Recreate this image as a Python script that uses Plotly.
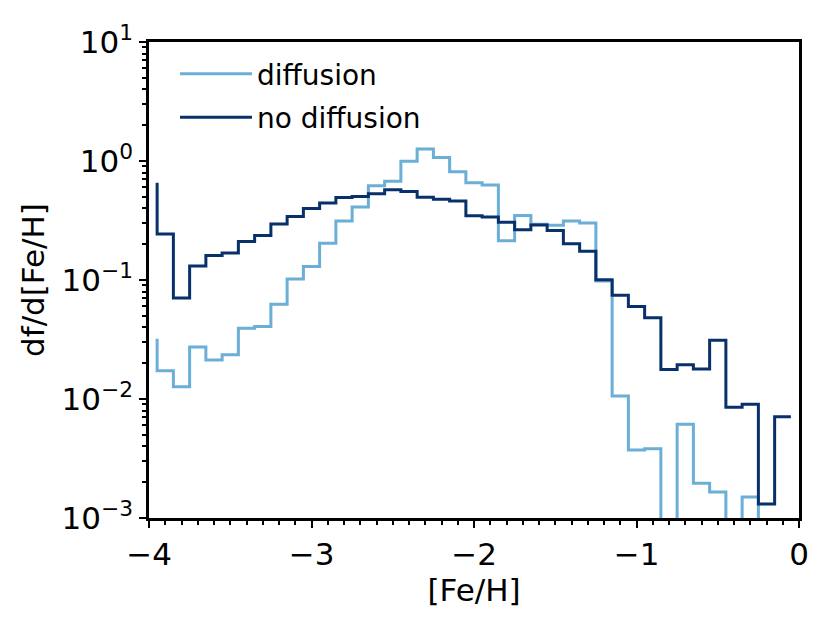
import plotly.graph_objects as go

# bin edges in [Fe/H]; the first value of each series only marks the start of the step line
fe_h_edges = [-3.95, -3.85, -3.75, -3.65, -3.55, -3.45, -3.35, -3.25, -3.15, -3.05,
              -2.95, -2.85, -2.75, -2.65, -2.55, -2.45, -2.35, -2.25, -2.15, -2.05,
              -1.95, -1.85, -1.75, -1.65, -1.55, -1.45, -1.35, -1.25, -1.15, -1.05,
              -0.95, -0.85, -0.75, -0.65, -0.55, -0.45, -0.35, -0.25, -0.15, -0.05]

diffusion = [0.0321, 0.0173, 0.0127, 0.0273, 0.0213, 0.0235, 0.0394, 0.0406, 0.0625, 0.102,
             0.130, 0.204, 0.313, 0.411, 0.618, 0.675, 0.993, 1.26, 1.07, 0.811,
             0.655, 0.630, 0.214, 0.349, 0.294, 0.289, 0.313, 0.302, 0.0981, 0.0106,
             0.00372, 0.00381, 0.0001, 0.00614, 0.00196, 0.00165, 0.0001, 0.0015, 0.0001, 0.0001]

no_diffusion = [0.655, 0.243, 0.0706, 0.131, 0.161, 0.169, 0.211, 0.237, 0.296, 0.342,
                0.399, 0.444, 0.494, 0.504, 0.531, 0.573, 0.555, 0.497, 0.476, 0.461,
                0.347, 0.338, 0.305, 0.265, 0.290, 0.261, 0.202, 0.174, 0.1006, 0.0743,
                0.0598, 0.0482, 0.0177, 0.0194, 0.0179, 0.0311, 0.00853, 0.00903, 0.00131, 0.0071]

ytick_vals = [1e-3, 1e-2, 1e-1, 1, 10]
ytick_text = ["10<sup>\u22123</sup>", "10<sup>\u22122</sup>", "10<sup>\u22121</sup>",
              "10<sup>0</sup>", "10<sup>1</sup>"]
xtick_vals = [-4, -3, -2, -1, 0]
xtick_text = ["\u22124", "\u22123", "\u22122", "\u22121", "0"]

# minor log ticks 2..9 in every decade
y_minor = [m * 10.0 ** e for e in range(-3, 1) for m in range(2, 10)]

font = "DejaVu Sans"

fig = go.Figure()
fig.add_trace(go.Scatter(x=fe_h_edges, y=diffusion, mode="lines", name="diffusion",
                         line=dict(color="#6baed6", width=3, shape="vh"),
                         legendgroup="a"))
fig.add_trace(go.Scatter(x=fe_h_edges, y=no_diffusion, mode="lines", name="no diffusion",
                         line=dict(color="#08306b", width=3, shape="vh"),
                         legendgroup="b"))

axis_common = dict(showline=True, linecolor="black", linewidth=2.5, mirror=True,
                   ticks="outside", ticklen=7, tickwidth=2, tickcolor="black",
                   showgrid=False, zeroline=False,
                   tickfont=dict(family=font, size=31, color="black"))

fig.update_xaxes(range=[-4, 0], tickvals=xtick_vals, ticktext=xtick_text,
                 title=dict(text="[Fe/H]", font=dict(family=font, size=31, color="black"),
                            standoff=0),
                 minor=dict(ticks="outside", dtick=0.1, ticklen=4, tickwidth=1.5,
                            tickcolor="black", showgrid=False),
                 **axis_common)
fig.update_yaxes(type="log", range=[-3, 1], tickvals=ytick_vals, ticktext=ytick_text,
                 title=dict(text="df/d[Fe/H]", font=dict(family=font, size=31, color="black"),
                            standoff=8),
                 minor=dict(ticks="outside", tickvals=y_minor, ticklen=4, tickwidth=1.5,
                            tickcolor="black", showgrid=False),
                 **axis_common)

# the page body has an 8px default margin, so margins are shifted to compensate
fig.update_layout(
    width=830, height=623,
    margin=dict(l=141, r=39, t=26, b=113),
    paper_bgcolor="white", plot_bgcolor="white",
    font=dict(family=font, size=31, color="black"),
    legend=dict(x=0.04, y=0.985, xanchor="left", yanchor="top",
                bgcolor="rgba(255,255,255,0)", borderwidth=0,
                traceorder="grouped", tracegroupgap=4, itemwidth=72,
                font=dict(family=font, size=28, color="black")),
)

fig.write_html("out.html")
